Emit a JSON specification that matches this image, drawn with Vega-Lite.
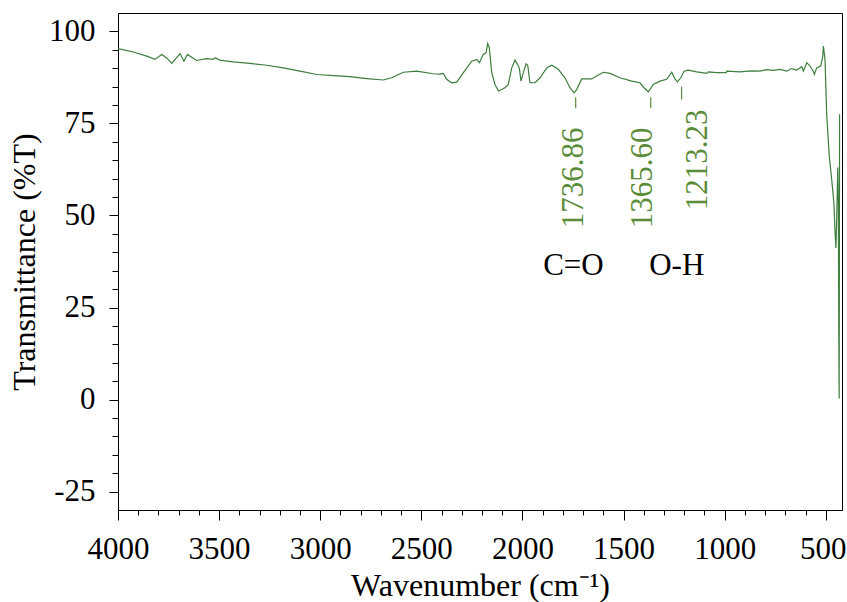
{
  "$schema": "https://vega.github.io/schema/vega-lite/v6.json",
  "width": 724,
  "height": 497,
  "autosize": {"type": "none"},
  "padding": {"left": 118, "top": 13, "right": 5, "bottom": 92},
  "background": "white",
  "config": {"view": {"stroke": "black", "strokeWidth": 1}, "font": "Liberation Serif", "axis": {"labelOverlap": false}},
  "resolve": {"axis": {"x": "independent", "y": "independent"}},
  "datasets": {
    "spectrum": [
      {"wn": 4000, "T": 95.3}, {"wn": 3924, "T": 94.4}, {"wn": 3858, "T": 93.3}, {"wn": 3817, "T": 92.4},
      {"wn": 3784, "T": 93.75}, {"wn": 3759, "T": 92.8}, {"wn": 3734, "T": 91.3}, {"wn": 3693, "T": 94.0},
      {"wn": 3674, "T": 91.9}, {"wn": 3657, "T": 93.75}, {"wn": 3611, "T": 92.1}, {"wn": 3561, "T": 92.6},
      {"wn": 3529, "T": 92.4}, {"wn": 3520, "T": 92.85}, {"wn": 3496, "T": 92.2}, {"wn": 3430, "T": 91.75},
      {"wn": 3347, "T": 91.3}, {"wn": 3265, "T": 90.8}, {"wn": 3183, "T": 90.1}, {"wn": 3100, "T": 89.2},
      {"wn": 3017, "T": 88.3}, {"wn": 2935, "T": 88.0}, {"wn": 2853, "T": 87.7}, {"wn": 2770, "T": 87.2},
      {"wn": 2688, "T": 86.8}, {"wn": 2647, "T": 87.4}, {"wn": 2589, "T": 88.9}, {"wn": 2523, "T": 89.2},
      {"wn": 2441, "T": 88.5}, {"wn": 2408, "T": 88.4}, {"wn": 2391, "T": 88.6}, {"wn": 2375, "T": 87.0},
      {"wn": 2350, "T": 86.05}, {"wn": 2325, "T": 86.2}, {"wn": 2292, "T": 88.8}, {"wn": 2251, "T": 91.9},
      {"wn": 2226, "T": 92.4}, {"wn": 2213, "T": 91.5}, {"wn": 2194, "T": 93.75}, {"wn": 2180, "T": 94.2},
      {"wn": 2172, "T": 96.7}, {"wn": 2164, "T": 95.6}, {"wn": 2152, "T": 88.8}, {"wn": 2136, "T": 85.6},
      {"wn": 2119, "T": 83.8}, {"wn": 2103, "T": 84.2}, {"wn": 2086, "T": 84.7}, {"wn": 2070, "T": 85.6},
      {"wn": 2053, "T": 90.1}, {"wn": 2037, "T": 92.2}, {"wn": 2024, "T": 91.0}, {"wn": 2016, "T": 90.1},
      {"wn": 2007, "T": 86.5}, {"wn": 1996, "T": 88.8}, {"wn": 1982, "T": 91.2}, {"wn": 1974, "T": 90.8},
      {"wn": 1963, "T": 86.05}, {"wn": 1938, "T": 86.05}, {"wn": 1913, "T": 87.4}, {"wn": 1880, "T": 90.1},
      {"wn": 1855, "T": 90.8}, {"wn": 1823, "T": 89.7}, {"wn": 1790, "T": 87.4}, {"wn": 1765, "T": 84.7},
      {"wn": 1745, "T": 83.3}, {"wn": 1732, "T": 84.2}, {"wn": 1707, "T": 87.1}, {"wn": 1658, "T": 87.1},
      {"wn": 1633, "T": 87.9}, {"wn": 1600, "T": 88.9}, {"wn": 1567, "T": 88.6}, {"wn": 1518, "T": 87.4},
      {"wn": 1460, "T": 86.5}, {"wn": 1419, "T": 86.05}, {"wn": 1399, "T": 84.7}, {"wn": 1378, "T": 83.6},
      {"wn": 1353, "T": 85.6}, {"wn": 1320, "T": 86.5}, {"wn": 1287, "T": 87.0}, {"wn": 1262, "T": 88.9},
      {"wn": 1246, "T": 87.1}, {"wn": 1234, "T": 86.3}, {"wn": 1217, "T": 87.4}, {"wn": 1201, "T": 89.2},
      {"wn": 1180, "T": 89.5}, {"wn": 1138, "T": 89.0}, {"wn": 1089, "T": 88.6}, {"wn": 1081, "T": 89.0},
      {"wn": 1040, "T": 88.8}, {"wn": 993, "T": 88.8}, {"wn": 990, "T": 89.2}, {"wn": 924, "T": 89.0},
      {"wn": 870, "T": 89.3}, {"wn": 830, "T": 89.2}, {"wn": 790, "T": 89.6}, {"wn": 760, "T": 89.4},
      {"wn": 726, "T": 89.7}, {"wn": 693, "T": 89.2}, {"wn": 669, "T": 89.9}, {"wn": 644, "T": 89.5},
      {"wn": 619, "T": 90.4}, {"wn": 611, "T": 89.2}, {"wn": 594, "T": 91.5}, {"wn": 578, "T": 90.6},
      {"wn": 562, "T": 89.2}, {"wn": 557, "T": 88.3}, {"wn": 545, "T": 90.1}, {"wn": 525, "T": 90.6},
      {"wn": 515, "T": 93.3}, {"wn": 512, "T": 96.0}, {"wn": 504, "T": 92.4}, {"wn": 496, "T": 77.9},
      {"wn": 483, "T": 66.1}, {"wn": 471, "T": 59.8}, {"wn": 460, "T": 53.4}, {"wn": 455, "T": 46.2},
      {"wn": 450, "T": 41.2}, {"wn": 446, "T": 49.8}, {"wn": 441, "T": 63.0}, {"wn": 438, "T": 53.4},
      {"wn": 436, "T": 19.9}, {"wn": 434, "T": 0.3}, {"wn": 432, "T": 77.5}
    ],
    "peaks": [
      {"peak": 1736.86, "label": "1736.86", "tickTop": 82.1, "tickBottom": 79.1, "labelX": 1746, "labelTop": 73.9},
      {"peak": 1365.60, "label": "1365.60", "tickTop": 82.1, "tickBottom": 79.1, "labelX": 1405, "labelTop": 73.9},
      {"peak": 1213.23, "label": "1213.23", "tickTop": 85.0, "tickBottom": 81.5, "labelX": 1133, "labelTop": 78.8}
    ],
    "groups": [
      {"group": "C=O", "gx": 1748, "gy": 36.4},
      {"group": "O-H", "gx": 1237, "gy": 36.4}
    ]
  },
  "layer": [
    {
      "data": {"name": "spectrum"},
      "mark": {"type": "line", "color": "#3d7d3d", "strokeWidth": 1.2},
      "encoding": {
        "x": {
          "field": "wn", "type": "quantitative",
          "scale": {"domain": [420, 4000], "reverse": true, "nice": false, "zero": false},
          "axis": {
            "orient": "bottom",
            "title": "Wavenumber (cm⁻¹)",
            "values": [500, 1000, 1500, 2000, 2500, 3000, 3500, 4000],
            "labelExpr": "toString(datum.value)",
            "tickSize": 10,
            "tickColor": "black",
            "domainColor": "black",
            "grid": false,
            "labelFont": "Liberation Serif", "labelFontSize": 31, "labelColor": "black",
            "labelBaseline": "alphabetic", "labelPadding": 38,
            "labelOverlap": false, "labelFlush": false,
            "labelOffset": {"condition": {"test": "datum.value === 500", "value": -3}, "value": 0},
            "titleFont": "Liberation Serif", "titleFontSize": 32, "titleFontWeight": "normal", "titleColor": "black",
            "titleY": 85, "titleBaseline": "alphabetic"
          }
        },
        "y": {
          "field": "T", "type": "quantitative",
          "scale": {"domain": [-30, 105], "nice": false, "zero": false},
          "axis": {
            "orient": "left",
            "title": "Transmittance (%T)",
            "values": [-25, 0, 25, 50, 75, 100],
            "labelExpr": "toString(datum.value)",
            "tickSize": 9,
            "tickColor": "black",
            "domainColor": "black",
            "grid": false,
            "labelFont": "Liberation Serif", "labelFontSize": 31, "labelColor": "black",
            "labelPadding": 14, "labelOverlap": false, "labelFlush": false,
            "titleFont": "Liberation Serif", "titleFontSize": 32, "titleFontWeight": "normal", "titleColor": "black",
            "titleX": -94, "titleY": 248.5, "titleBaseline": "middle", "titleAlign": "center", "titleAngle": 270
          }
        }
      }
    },
    {
      "data": {"name": "peaks"},
      "mark": {"type": "rule", "color": "#5b8c3a", "strokeWidth": 1.2},
      "encoding": {
        "x": {
          "field": "peak", "type": "quantitative",
          "scale": {"domain": [420, 4000], "reverse": true, "nice": false, "zero": false},
          "axis": {
            "orient": "bottom", "title": null, "labels": false, "domain": false, "grid": false,
            "tickSize": 5, "tickColor": "black",
            "values": [600,700,800,900,1100,1200,1300,1400,1600,1700,1800,1900,2100,2200,2300,2400,2600,2700,2800,2900,3100,3200,3300,3400,3600,3700,3800,3900]
          }
        },
        "y": {
          "field": "tickTop", "type": "quantitative",
          "scale": {"domain": [-30, 105], "nice": false, "zero": false},
          "axis": {
            "orient": "left", "title": null, "labels": false, "domain": false, "grid": false,
            "tickSize": 6, "tickColor": "black",
            "values": [-20,-15,-10,-5,5,10,15,20,30,35,40,45,55,60,65,70,80,85,90,95]
          }
        },
        "y2": {"field": "tickBottom"}
      }
    },
    {
      "data": {"name": "peaks"},
      "mark": {"type": "text", "color": "#5b8c3a", "font": "Liberation Serif", "fontSize": 31, "angle": 270, "align": "right", "baseline": "middle"},
      "encoding": {
        "x": {"field": "labelX", "type": "quantitative", "scale": {"domain": [420, 4000], "reverse": true, "nice": false, "zero": false}, "axis": null},
        "y": {"field": "labelTop", "type": "quantitative", "scale": {"domain": [-30, 105], "nice": false, "zero": false}, "axis": null},
        "text": {"field": "label"}
      }
    },
    {
      "data": {"name": "groups"},
      "mark": {"type": "text", "color": "black", "font": "Liberation Serif", "fontSize": 31, "align": "center", "baseline": "middle"},
      "encoding": {
        "x": {"field": "gx", "type": "quantitative", "scale": {"domain": [420, 4000], "reverse": true, "nice": false, "zero": false}, "axis": null},
        "y": {"field": "gy", "type": "quantitative", "scale": {"domain": [-30, 105], "nice": false, "zero": false}, "axis": null},
        "text": {"field": "group"}
      }
    }
  ]
}
